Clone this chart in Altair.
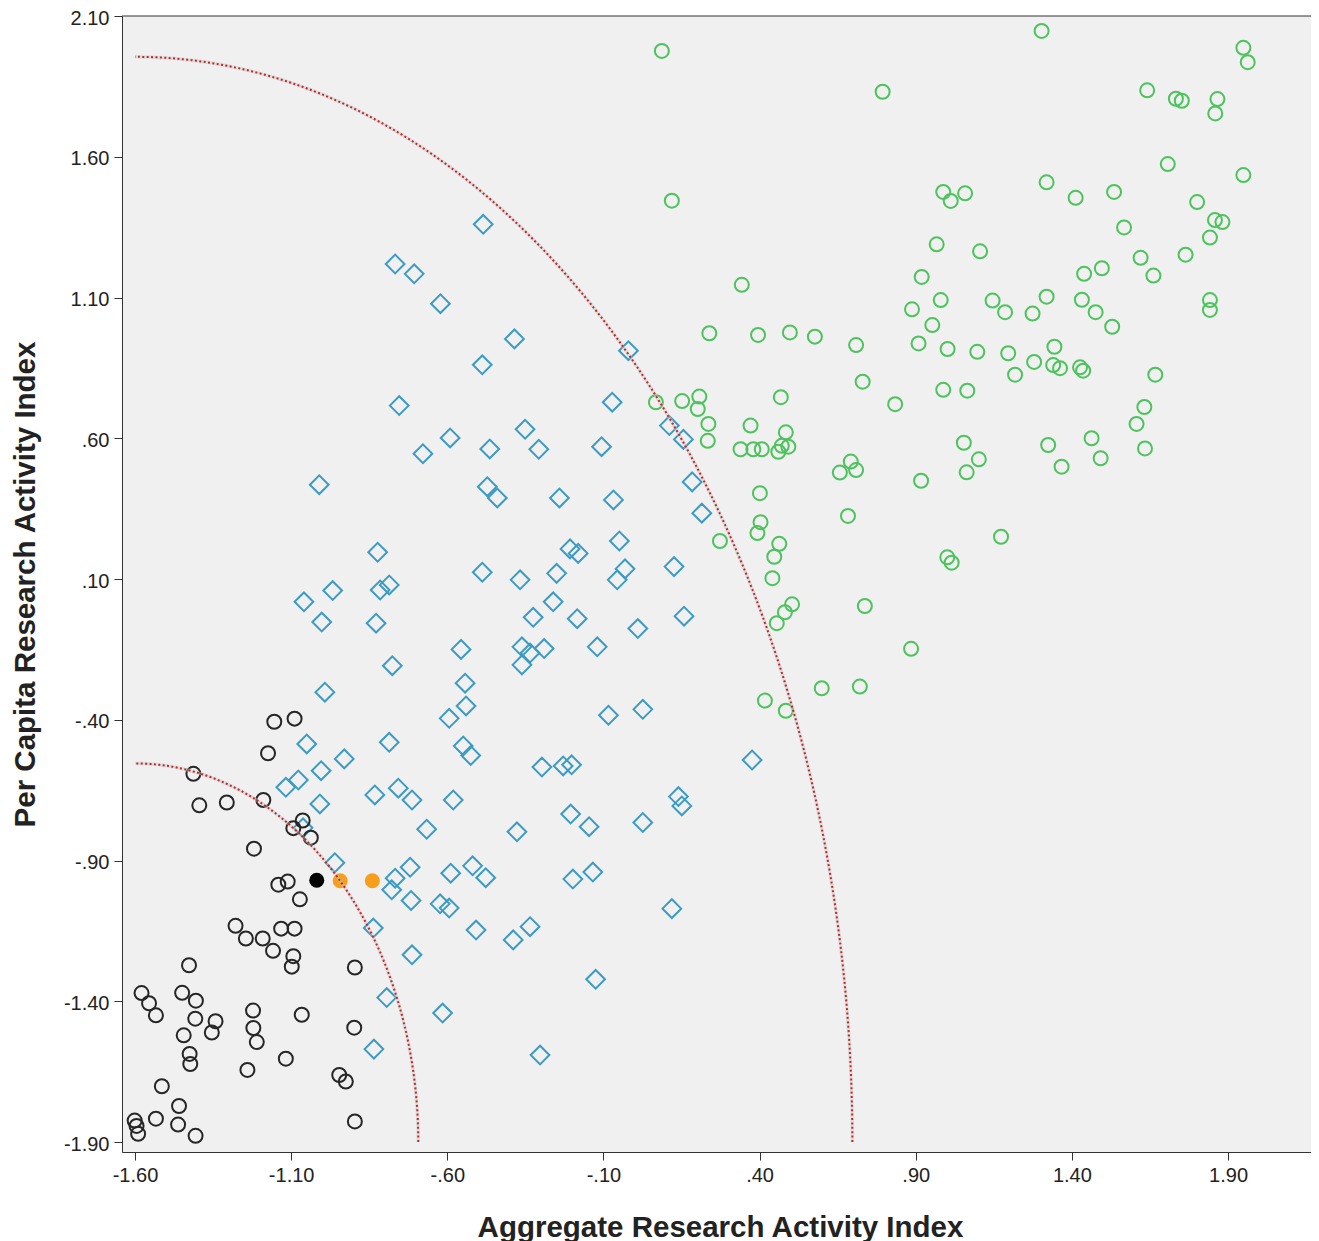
import altair as alt
import numpy as np
import pandas as pd

# ---------------- data ----------------
black_x = [-1.154, -1.089, -1.174, -1.413, -1.394, -1.306, -1.189, -1.063, -1.093, -1.037,
           -1.219, -1.141, -1.111, -1.072, -1.278, -1.245, -1.191, -1.158, -1.132, -1.089,
           -1.093, -1.098, -0.896, -1.427, -1.579, -1.555, -1.533, -1.449, -1.405, -1.407,
           -1.342, -1.354, -1.444, -1.425, -1.423, -1.222, -1.221, -1.210, -1.066, -0.898,
           -1.117, -1.240, -0.946, -0.925, -1.514, -1.459, -1.533, -1.462, -1.601, -1.595,
           -1.590, -1.406, -0.896]
black_y = [-0.407, -0.396, -0.519, -0.592, -0.704, -0.694, -0.685, -0.758, -0.785, -0.819,
           -0.858, -0.986, -0.975, -1.038, -1.132, -1.177, -1.177, -1.221, -1.142, -1.142,
           -1.240, -1.277, -1.280, -1.272, -1.371, -1.407, -1.450, -1.370, -1.398, -1.462,
           -1.471, -1.511, -1.521, -1.587, -1.623, -1.433, -1.495, -1.545, -1.448, -1.494,
           -1.604, -1.644, -1.662, -1.685, -1.702, -1.772, -1.817, -1.838, -1.824, -1.843,
           -1.871, -1.878, -1.827]

blue_x = [-0.485, -0.767, -0.706, -0.622, -0.385, -0.488, -0.754, -0.591, -0.678, -0.464,
          -1.010, -0.472, -0.440, -0.823, -0.488, -0.367, -0.967, -1.059, -0.815, -0.786,
          -1.002, -0.828, -0.556, -0.361, -0.335, -0.361, -0.776, -0.543, -0.540, -0.594,
          -0.992, -1.050, -0.786, -0.549, -0.525, -0.930, -1.004, -1.077, -1.117, -0.832,
          -0.757, -0.713, -0.581, -1.008, -0.666, -0.377, -0.960, -0.719, -0.767, -0.778,
          -0.589, -0.519, -0.477, -0.716, -0.623, -0.594, -0.837, -0.508, -0.389, -0.713,
          -0.794, -0.615, -0.835, -1.062, -0.020, -0.072, -0.351, -0.307, -0.106, 0.111,
          0.156, 0.184, -0.241, -0.068, 0.215, -0.207, -0.181, -0.049, -0.250, -0.031,
          -0.056, 0.126, -0.261, -0.325, -0.184, 0.158, 0.010, -0.120, -0.290, -0.084,
          0.026, -0.297, -0.229, -0.202, 0.376, 0.140, 0.151, -0.205, -0.146, 0.026,
          -0.198, -0.134, 0.119, -0.335, -0.125, -0.303]
blue_y = [1.360, 1.219, 1.184, 1.078, 0.953, 0.861, 0.716, 0.601, 0.545, 0.562,
          0.435, 0.428, 0.388, 0.195, 0.124, 0.097, 0.059, 0.019, 0.061, 0.079,
          -0.053, -0.057, -0.150, -0.141, -0.163, -0.205, -0.208, -0.270, -0.351, -0.395,
          -0.302, -0.486, -0.480, -0.493, -0.527, -0.539, -0.581, -0.614, -0.640, -0.667,
          -0.643, -0.685, -0.685, -0.699, -0.789, -0.798, -0.908, -0.924, -0.963, -1.004,
          -0.945, -0.919, -0.961, -1.042, -1.054, -1.069, -1.140, -1.147, -1.182, -1.235,
          -1.387, -1.442, -1.570, -0.784, 0.911, 0.728, 0.632, 0.561, 0.570, 0.645,
          0.596, 0.445, 0.388, 0.381, 0.334, 0.207, 0.191, 0.235, 0.120, 0.136,
          0.097, 0.144, 0.019, -0.036, -0.041, -0.032, -0.076, -0.141, -0.147, -0.384,
          -0.363, -0.568, -0.564, -0.560, -0.543, -0.673, -0.706, -0.735, -0.780, -0.765,
          -0.966, -0.941, -1.071, -1.135, -1.322, -1.591]

green_x = [0.087, 0.794, 0.119, 0.988, 1.012, 1.058, 0.967, 0.919, 0.343, 1.303,
           1.949, 1.963, 1.641, 1.733, 1.752, 1.866, 1.859, 1.707, 1.949, 1.319,
           1.412, 1.535, 1.801, 1.567, 1.858, 1.882, 1.842, 1.106, 1.620, 1.764,
           1.439, 1.496, 1.661, 1.146, 1.186, 1.274, 1.319, 1.432, 1.476, 1.529,
           1.842, 1.842, 1.097, 1.196, 1.344, 1.279, 1.340, 1.362, 1.426, 1.436,
           1.218, 1.667, 1.065, 1.632, 1.607, 1.634, 1.324, 1.463, 1.492, 1.367,
           1.054, 1.102, 1.063, 1.173, 0.980, 0.888, 0.953, 0.909, 1.002, 0.988,
           0.834, 0.730, 0.709, 0.577, 0.497, 0.468, 0.484, 0.460, 0.471, 0.492,
           0.692, 0.657, 0.709, 0.917, 0.683, 0.403, 0.393, 0.273, 0.463, 0.447,
           0.441, 1.001, 1.015, 0.504, 0.481, 0.455, 0.737, 0.885, 0.599, 0.721,
           0.417, 0.484, 0.239, 0.395, 0.068, 0.152, 0.207, 0.202, 0.236, 0.371,
           0.234, 0.339, 0.380, 0.407, 0.401]
green_y = [1.976, 1.831, 1.444, 1.475, 1.443, 1.470, 1.289, 1.173, 1.145, 2.047,
           1.987, 1.936, 1.836, 1.806, 1.799, 1.805, 1.754, 1.574, 1.535, 1.509,
           1.454, 1.475, 1.439, 1.349, 1.375, 1.368, 1.313, 1.264, 1.241, 1.252,
           1.184, 1.204, 1.178, 1.089, 1.048, 1.043, 1.103, 1.092, 1.048, 0.996,
           1.091, 1.056, 0.907, 0.902, 0.925, 0.871, 0.860, 0.849, 0.852, 0.840,
           0.826, 0.826, 0.769, 0.711, 0.651, 0.564, 0.576, 0.600, 0.529, 0.499,
           0.584, 0.525, 0.479, 0.250, 1.091, 1.058, 1.002, 0.937, 0.917, 0.772,
           0.721, 0.801, 0.931, 0.961, 0.976, 0.746, 0.621, 0.552, 0.573, 0.570,
           0.517, 0.478, 0.487, 0.449, 0.324, 0.302, 0.263, 0.235, 0.225, 0.179,
           0.103, 0.177, 0.158, 0.010, -0.018, -0.057, 0.004, -0.148, -0.288, -0.282,
           -0.332, -0.368, 0.973, 0.967, 0.728, 0.732, 0.748, 0.704, 0.651, 0.645,
           0.591, 0.561, 0.561, 0.561, 0.405]

focus_x = [-1.018]
focus_y = [-0.970]
peer_x = [-0.943, -0.840]
peer_y = [-0.972, -0.972]

# reference arcs: quarter ellipses around the lower-left corner
arc_center = (-1.60, -1.90)
arc_radii_x = [0.907, 2.297]
arc_radii_y = [1.345, 3.855]

x_ticks = [-1.6, -1.1, -0.6, -0.1, 0.4, 0.9, 1.4, 1.9]
y_ticks = [2.1, 1.6, 1.1, 0.6, 0.1, -0.4, -0.9, -1.4, -1.9]
X_DOMAIN = [-1.6416, 2.1656]
Y_DOMAIN = [-1.9355, 2.10]

# ---------------- frames ----------------
df_black = pd.DataFrame({"x": black_x, "y": black_y})
df_blue = pd.DataFrame({"x": blue_x, "y": blue_y})
df_green = pd.DataFrame({"x": green_x, "y": green_y})
df_focus = pd.DataFrame({"x": focus_x, "y": focus_y})
df_peer = pd.DataFrame({"x": peer_x, "y": peer_y})

t = np.linspace(0, np.pi / 2, 240)
arc_rows = []
for k, (ax_, ay_) in enumerate(zip(arc_radii_x, arc_radii_y)):
    for i, tt in enumerate(t):
        arc_rows.append({"arc": k, "i": i,
                         "x": arc_center[0] + ax_ * np.cos(tt),
                         "y": arc_center[1] + ay_ * np.sin(tt)})
df_arc = pd.DataFrame(arc_rows)

W, H = 1189, 1136
FONT = "Liberation Sans"
LABEL = ("(datum.value < 0 ? '-' : '') + (abs(datum.value) < 1 ? "
         "substring(format(abs(datum.value), '.2f'), 1) : format(abs(datum.value), '.2f'))")

xs = alt.Scale(domain=X_DOMAIN, nice=False, zero=False)
ys = alt.Scale(domain=Y_DOMAIN, nice=False, zero=False)

x_enc = alt.X("x:Q", scale=xs, axis=alt.Axis(
    values=x_ticks, labelExpr=LABEL, title="Aggregate Research Activity Index",
    grid=False, tickSize=8, labelPadding=5, labelFontSize=20, labelFont=FONT,
    labelColor="#222222", labelFlush=False, labelOverlap=False,
    titleFont=FONT, titleFontSize=29.5, titleFontWeight="bold", titleColor="#222222",
    titleX=598, titleY=84, titleAlign="center", titleBaseline="alphabetic",
    domainColor="#333333", tickColor="#333333"))
y_enc = alt.Y("y:Q", scale=ys, axis=alt.Axis(
    values=y_ticks, labelExpr=LABEL, title="Per Capita Research Activity Index",
    grid=False, tickSize=8, labelPadding=5, labelFontSize=20, labelFont=FONT,
    labelColor="#222222", labelFlush=False, labelOverlap=False, labelOffset=2,
    titleFont=FONT, titleFontSize=29.5, titleFontWeight="bold", titleColor="#222222",
    titleX=-97, titleY=H / 2, titleAngle=270, titleAlign="center", titleBaseline="middle",
    domainColor="#333333", tickColor="#333333"))

blue = alt.Chart(df_blue).mark_point(
    shape="diamond", filled=False, size=350, strokeWidth=2, color="#3B9BC3", opacity=1
).encode(x=x_enc, y=y_enc)
green = alt.Chart(df_green).mark_point(
    shape="circle", filled=False, size=196, strokeWidth=2, color="#4CC35C", opacity=1
).encode(x=x_enc, y=y_enc)
black = alt.Chart(df_black).mark_point(
    shape="circle", filled=False, size=196, strokeWidth=2, color="#262626", opacity=1
).encode(x=x_enc, y=y_enc)
focus = alt.Chart(df_focus).mark_point(
    shape="circle", filled=True, size=225, color="#000000", opacity=1, strokeWidth=0
).encode(x=x_enc, y=y_enc)
peers = alt.Chart(df_peer).mark_point(
    shape="circle", filled=True, size=225, color="#F79E1B", opacity=1, strokeWidth=0
).encode(x=x_enc, y=y_enc)
arc_shadow = alt.Chart(df_arc).mark_line(
    color="#c8c8c8", strokeWidth=3.5, opacity=0.45
).encode(x=x_enc, y=y_enc, detail="arc:N", order="i:Q")
arcs = alt.Chart(df_arc).mark_line(
    color="#C0282C", strokeWidth=2, strokeDash=[2, 2.4]
).encode(x=x_enc, y=y_enc, detail="arc:N", order="i:Q")
top_frame = alt.Chart(pd.DataFrame({"f": [0]})).mark_rule(
    color="#333333", strokeWidth=1
).encode(x=alt.value(0), x2=alt.value(W), y=alt.value(0))

chart = alt.layer(blue, green, black, focus, peers, arc_shadow, arcs, top_frame).properties(
    width=W, height=H,
    autosize=alt.AutoSizeParams(type="none"),
    padding={"left": 114, "top": 8, "right": 0, "bottom": 92},
).configure(background="white", font=FONT).configure_view(fill="#F0F0F0", stroke=None)

chart.save("out.html", embed_options={"renderer": "svg", "actions": False})
